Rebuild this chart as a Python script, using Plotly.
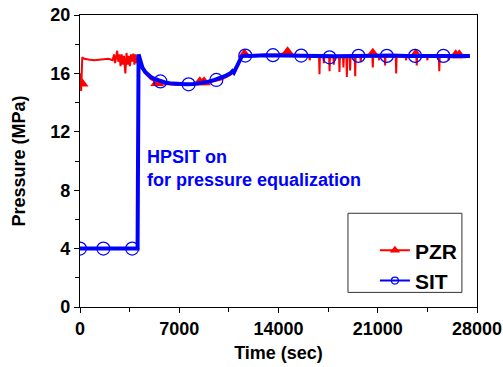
import plotly.graph_objects as go

# ---- data ----
sit_t = [0, 4000, 4060, 4130, 4250, 4400, 4600, 4800, 5000, 5300, 5600, 6000, 6500, 7000, 7500,
         8000, 8500, 9000, 9500, 10000, 10300, 10600, 10750, 10850, 10950, 11100, 11250, 11400,
         11600, 12000, 13000, 14000, 15000, 16000, 17000, 18000, 19000, 20000, 21000, 22000,
         23000, 24000, 25000, 26000, 27000, 27500]
sit_p = [4.0, 4.0, 4.0, 17.3, 16.8, 16.4, 16.1, 15.9, 15.75, 15.6, 15.48, 15.38, 15.3, 15.26, 15.25,
         15.27, 15.32, 15.42, 15.55, 15.7, 15.85, 16.0, 16.15, 16.05, 16.25, 16.6, 16.95, 17.15,
         17.22, 17.2, 17.25, 17.25, 17.22, 17.2, 17.2, 17.18, 17.2, 17.2, 17.2, 17.22,
         17.2, 17.2, 17.2, 17.2, 17.2, 17.2]

sit_mark_t = [0, 1650, 3680, 5670, 7660, 9615, 11660, 13610, 15600, 17600, 19640, 21640, 23630, 25630]
sit_mark_p = [4.0, 4.0, 4.0, 15.45, 15.25, 15.55, 17.22, 17.25, 17.22, 17.1, 17.2, 17.2, 17.2, 17.2]

pzr_t = [0, 40, 80, 120, 160, 220, 300, 600, 1000, 1500, 2000, 2300, 2400, 2480, 2550, 2620,
         2700, 2780, 2860, 2940, 3020, 3100, 3200, 3280, 3360, 3440, 3520, 3600, 3680, 3760,
         3840, 3920, 4000, 4080, 4150, 4250, 4400, 4600, 4800, 5000, 5300, 5600, 6000, 6500,
         7000, 7500, 8000, 8500, 9000, 9500, 10000, 10300, 10600, 10750, 10850, 10950, 11100,
         11250, 11400, 11600, 12000, 13000, 14000, 14500, 15000, 15600, 16000,
         16170, 16200, 16230, 16860, 16890, 16920, 17170, 17200, 17230, 17570, 17600, 17630,
         17870, 17900, 17930, 18270, 18300, 18330, 18550, 18580, 18610, 18790, 18820, 18850,
         19020, 19050, 19080, 19380, 19410, 19440, 19770, 19800, 19830, 20620, 20650, 20680,
         21070, 21100, 21130, 21490, 21520, 21550, 22270, 22300, 22330, 22970, 23000, 23030,
         23720, 23750, 23780, 24470, 24500, 24530, 25310, 25340, 25370, 25970, 26000, 26030,
         27000, 27500]
pzr_p = [15.0, 16.0, 14.8, 16.3, 17.1, 17.05, 17.0, 16.95, 16.9, 16.95, 17.0, 16.9, 17.3, 16.7,
         17.2, 17.55, 16.8, 17.3, 16.5, 17.3, 16.6, 17.2, 16.0, 17.4, 16.6, 17.2, 16.5, 17.3,
         16.8, 17.35, 16.6, 17.3, 16.7, 17.1, 16.9, 16.6, 16.3, 16.0, 15.8, 15.6, 15.45, 15.35,
         15.28, 15.22, 15.2, 15.2, 15.22, 15.27, 15.35, 15.45, 15.6, 15.75, 15.9, 16.05, 15.95,
         16.15, 16.5, 16.9, 17.1, 17.25, 17.2, 17.25, 17.3, 17.4, 17.3, 17.25, 17.2,
         17.15, 16.9, 17.15, 17.1, 15.95, 17.1, 17.1, 16.7, 17.1, 17.1, 16.15, 17.1,
         17.1, 16.6, 17.1, 17.1, 16.1, 17.1, 17.1, 16.4, 17.1, 17.1, 15.75, 17.1,
         17.1, 16.2, 17.1, 17.1, 15.8, 17.1, 17.15, 16.8, 17.15, 17.15, 16.4, 17.15,
         17.15, 16.9, 17.15, 17.15, 16.55, 17.15, 17.15, 16.0, 17.15, 17.15, 16.9, 17.15,
         17.15, 16.55, 17.15, 17.15, 16.9, 17.15, 17.15, 16.15, 17.15, 17.15, 16.9, 17.15,
         17.15, 17.15]

pzr_mark_t = [120, 5440, 8450, 8750, 11600, 14640, 20650, 23680, 26500, 26750]
pzr_mark_p = [15.3, 15.35, 15.4, 15.4, 17.3, 17.45, 17.35, 17.3, 17.25, 17.25]

x_ticks = [0, 7000, 14000, 21000, 28000]
y_ticks = [0, 4, 8, 12, 16, 20]

RED = "#ff0000"
BLUE = "#0000ff"
FONT = "Liberation Sans, Arial, sans-serif"

fig = go.Figure()
fig.add_trace(go.Scatter(x=pzr_t, y=pzr_p, mode="lines", line=dict(color=RED, width=2),
                         showlegend=False, hoverinfo="skip"))
fig.add_trace(go.Scatter(x=pzr_mark_t, y=pzr_mark_p, mode="markers",
                         marker=dict(symbol="triangle-up", size=12, color=RED),
                         showlegend=False))
fig.add_trace(go.Scatter(x=sit_t, y=sit_p, mode="lines", line=dict(color=BLUE, width=4),
                         showlegend=False))
fig.add_trace(go.Scatter(x=sit_mark_t, y=sit_mark_p, mode="markers",
                         marker=dict(symbol="circle-open", size=13, color=BLUE, line=dict(width=1.2)),
                         showlegend=False))
# legend entries
fig.add_trace(go.Scatter(x=[None], y=[None], mode="lines+markers", name="PZR",
                         line=dict(color=RED, width=2),
                         marker=dict(symbol="triangle-up", size=9, color=RED)))
fig.add_trace(go.Scatter(x=[None], y=[None], mode="lines+markers", name="SIT",
                         line=dict(color=BLUE, width=2),
                         marker=dict(symbol="circle-open", size=7, color=BLUE, line=dict(width=1.2))))

axis_font = dict(family=FONT, size=18, color="black", weight="bold")

fig.update_layout(
    width=503, height=367,
    margin=dict(l=80, r=26, t=15, b=60, autoexpand=False),
    paper_bgcolor="white", plot_bgcolor="white",
    font=dict(family=FONT, color="black"),
    showlegend=True,
    legend=dict(x=0.962, xanchor="right", y=0.02, yanchor="bottom",
                bgcolor="rgba(0,0,0,0)", borderwidth=0,
                font=dict(family=FONT, size=21, color="black", weight="bold"),
                tracegroupgap=0, itemwidth=30),
    xaxis=dict(range=[0, 28000], tickvals=x_ticks, ticktext=[str(v) for v in x_ticks],
               automargin=False,
               showgrid=False, zeroline=False, showline=True, linecolor="black", linewidth=1.3,
               mirror=True, ticks="outside", ticklen=5, tickwidth=1.2, tickcolor="black",
               tickfont=axis_font,
               minor=dict(dtick=3500, ticks="outside", ticklen=4, tickcolor="black", tickwidth=1),
               title=dict(text="Time (sec)", font=axis_font, standoff=8)),
    yaxis=dict(range=[0, 20], tickvals=y_ticks, ticktext=[str(v) for v in y_ticks],
               automargin=False,
               showgrid=False, zeroline=False, showline=True, linecolor="black", linewidth=1.3,
               mirror=True, ticks="outside", ticklen=5, tickwidth=1.2, tickcolor="black",
               tickfont=axis_font,
               minor=dict(dtick=2, ticks="outside", ticklen=4, tickcolor="black", tickwidth=1),
               title=dict(text="Pressure (MPa)", font=axis_font, standoff=19)),
    annotations=[dict(x=4600, y=9.5, xref="x", yref="y", xanchor="left", yanchor="middle",
                      align="left", showarrow=False,
                      text="HPSIT on<br>for pressure equalization",
                      font=dict(family=FONT, size=18, color=BLUE, weight="bold"))],
    shapes=[dict(type="rect", xref="paper", yref="paper", x0=0.675, x1=0.962, y0=0.05, y1=0.321,
                 line=dict(color="#333333", width=1), fillcolor="rgba(0,0,0,0)")],
)

fig.write_html("out.html", config={"displayModeBar": False},
               post_script="document.body.style.margin='0';")
